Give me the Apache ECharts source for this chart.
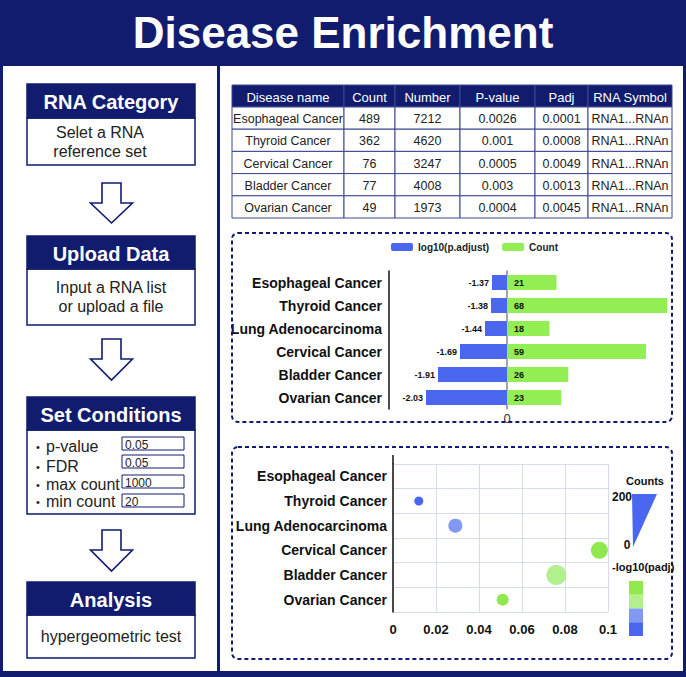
<!DOCTYPE html>
<html>
<head>
<meta charset="utf-8">
<script src="https://cdn.jsdelivr.net/npm/echarts@6/dist/echarts.min.js"></script>
<style>
html,body{margin:0;padding:0;background:#fff;}
#c{width:686px;height:677px;}
</style>
</head>
<body>
<div id="c"></div>
<script>
// ---------- data ----------
var categories = ['Esophageal Cancer','Thyroid Cancer','Lung Adenocarcinoma','Cervical Cancer','Bladder Cancer','Ovarian Cancer'];
var logPadj = [-1.37,-1.38,-1.44,-1.69,-1.91,-2.03];
var barCounts = [21,68,18,59,26,23];

// bubble chart: ratio (x), bubble count (size), colour level (1..4)
var bubbleRatio = [null,0.012,0.029,0.096,0.076,0.051];
var bubbleCount = [null,90,140,170,200,120];
var bubbleLevel = [null,1,2,4,3,4];

var tableHeader = ['Disease name','Count','Number','P-value','Padj','RNA Symbol'];
var tableDisease = ['Esophageal Cancer','Thyroid Cancer','Cervical Cancer','Bladder Cancer','Ovarian Cancer'];
var tableCount = [489,362,76,77,49];
var tableNumber = [7212,4620,3247,4008,1973];
var tablePvalue = ['0.0026','0.001','0.0005','0.003','0.0004'];
var tablePadj = ['0.0001','0.0008','0.0049','0.0013','0.0045'];
var tableSymbol = ['RNA1...RNAn','RNA1...RNAn','RNA1...RNAn','RNA1...RNAn','RNA1...RNAn'];

var steps = [
  {title:'RNA Category', lines:['Selet a RNA','reference set']},
  {title:'Upload Data', lines:['Input a RNA list','or upload a file']},
  {title:'Set Conditions', lines:[]},
  {title:'Analysis', lines:['hypergeometric test']}
];
var condNames = ['p-value','FDR','max count','min count'];
var condValues = ['0.05','0.05','1000','20'];
var countsLegend = ['200','0'];

// ---------- styles / layout ----------
var NAVY = '#111c6e';
var BLUE = '#4b66ef';
var GREEN = '#92ee52';
var levelColors = {1:'#4b66ef',2:'#8199f2',3:'#b2f08e',4:'#8fe84e'};
var FONT = '"Liberation Sans", Arial, sans-serif';

function txt(x,y,s,opt){
  opt = opt||{};
  return {type:'text', z: opt.z||5, style:{
    x:x, y:y, text:s, fill:opt.fill||'#222',
    font:(opt.weight||'normal')+' '+(opt.size||13)+'px '+FONT,
    align:opt.align||'center', verticalAlign:opt.va||'middle',
    textAlign:opt.align||'center', textVerticalAlign:opt.va||'middle'
  }};
}
function rect(x,y,w,h,opt){
  opt = opt||{};
  return {type:'rect', z: opt.z==null?1:opt.z, shape:{x:x,y:y,width:w,height:h,r:opt.r||0},
    style:{fill:opt.fill||'none', stroke:opt.stroke||null, lineWidth:opt.lw||0, lineDash:opt.dash||null}};
}

var g = [];
// panels
g.push(rect(3,66,214,605,{fill:'#ffffff',z:-5}));
g.push(rect(220,66,463,605,{fill:'#ffffff',z:-5}));
g.push(txt(343,32,'Disease Enrichment',{fill:'#ffffff',weight:'bold',size:44}));

// left steps
var boxX = 27, boxW = 168;
var boxY = [[84,118,165],[236,269,325],[397,430,514],[582,615,658]];
steps.forEach(function(s,i){
  var b = boxY[i];
  g.push(rect(boxX,b[1],boxW,b[2]-b[1],{fill:'#ffffff',stroke:NAVY,lw:1.5,z:1}));
  g.push(rect(boxX,b[0],boxW,b[1]-b[0],{fill:NAVY,stroke:NAVY,lw:1.5,z:2}));
  g.push(txt(boxX+boxW/2,(b[0]+b[1])/2+1,s.title,{fill:'#ffffff',weight:'bold',size:20}));
  var n = s.lines.length;
  s.lines.forEach(function(l,j){
    var cy = (b[1]+b[2])/2 + (j-(n-1)/2)*19;
    var cx = (i===0)?100:111;
    g.push(txt(cx,cy,l,{fill:'#222',size:16}));
  });
});
// arrows
var arrows = [[183,203,223],[339,359,380],[530,550,571]];
arrows.forEach(function(a){
  var cx = 111.5;
  g.push({type:'polygon', z:2, shape:{points:[[cx-9.5,a[0]],[cx+9.5,a[0]],[cx+9.5,a[1]],[cx+21,a[1]],[cx,a[2]],[cx-21,a[1]],[cx-9.5,a[1]]]},
    style:{fill:'#ffffff',stroke:NAVY,lineWidth:1.6}});
});
// conditions
var condY = [446,466,484,501];
var condBox = [437,455,475,494];
condNames.forEach(function(c,i){
  g.push(txt(38,condY[i]+1,'\u2022',{size:11,align:'center',fill:'#222'}));
  g.push(txt(46,condY[i],c,{size:16,align:'left',fill:'#222'}));
  g.push(rect(122,condBox[i],62,13,{fill:'#ffffff',stroke:NAVY,lw:1,z:2}));
  g.push(txt(125,condBox[i]+7.5,condValues[i],{size:12,align:'left',fill:'#222'}));
});

// table
var colX = [232,344,395,460,535,588,672];
var rowY = [85,107,129.2,151.4,173.6,195.8,218];
for (var c=0;c<6;c++){
  g.push(rect(colX[c],rowY[0],colX[c+1]-colX[c],rowY[1]-rowY[0],{fill:NAVY,stroke:'#3c4690',lw:1,z:2}));
  g.push(txt((colX[c]+colX[c+1])/2,(rowY[0]+rowY[1])/2+1,tableHeader[c],{fill:'#ffffff',size:13}));
}
var cols = [tableDisease,tableCount,tableNumber,tablePvalue,tablePadj,tableSymbol];
for (var r=0;r<5;r++){
  for (var c2=0;c2<6;c2++){
    g.push(rect(colX[c2],rowY[r+1],colX[c2+1]-colX[c2],rowY[r+2]-rowY[r+1],{fill:'#ffffff',stroke:'#3c4690',lw:1,z:2}));
    var tx = (colX[c2]+colX[c2+1])/2;
    g.push(txt(tx,(rowY[r+1]+rowY[r+2])/2+1,String(cols[c2][r]),{fill:'#222',size:12.5}));
  }
}

// dashed boxes
g.push(rect(232,233,440,189,{stroke:NAVY,lw:2,dash:[4,3],r:6,z:1}));
g.push(rect(232,447,440,212,{stroke:NAVY,lw:2,dash:[4,3],r:6,z:1}));

// bubble legends
g.push(txt(645,481,'Counts',{weight:'bold',size:11,fill:'#111'}));
g.push({type:'polygon',z:2,shape:{points:[[632,494],[657,494],[633,547]]},style:{fill:BLUE}});
g.push(txt(632,497,countsLegend[0],{weight:'bold',size:12,align:'right',fill:'#111'}));
g.push(txt(627,545,countsLegend[1],{weight:'bold',size:12,fill:'#111'}));
g.push(txt(612,567,'-log10(padj)',{weight:'bold',size:11,align:'left',fill:'#111'}));
[4,3,2,1].forEach(function(l,i){
  g.push(rect(629,581+i*13.75,14,13.75,{fill:levelColors[l],z:2}));
});
// y axis extension above bubble grid
g.push({type:'line',z:3,shape:{x1:393,y1:455,x2:393,y2:464},style:{stroke:'#111',lineWidth:1.5}});

// bubble data
var bubbleData = [];
categories.forEach(function(cat,i){
  if (bubbleRatio[i]!=null){
    bubbleData.push({value:[bubbleRatio[i],cat,bubbleCount[i],bubbleLevel[i]],
      itemStyle:{color:levelColors[bubbleLevel[i]],opacity:1}});
  }
});

var chart = echarts.init(document.getElementById('c'), null, {renderer:'svg', width:686, height:677});
chart.setOption({
  backgroundColor: NAVY,
  animation:false,
  textStyle:{fontFamily:FONT},
  graphic:{elements:g},
  legend:{
    data:['log10(p.adjust)','Count'], left:386, top:237, itemWidth:22, itemHeight:8, itemGap:13,
    icon:'roundRect',
    textStyle:{fontWeight:'bold',fontSize:10,color:'#222'}
  },
  grid:[
    {left:389, top:271, width:118, height:138},
    {left:507, top:271, width:165, height:138},
    {left:393, top:464, width:215, height:148}
  ],
  xAxis:[
    // truncated axis (bars start at the right edge of this grid)
    {gridIndex:0, type:'value', min:-2.40, max:-1.22, show:false},
    {gridIndex:1, type:'value', min:0, max:70, interval:70,
      axisLine:{show:false}, axisTick:{show:false}, splitLine:{show:false},
      axisLabel:{margin:3, fontSize:13, color:'#333', formatter:function(v){return v===0?'0':'';}}},
    {gridIndex:2, type:'value', min:0, max:0.1, interval:0.02,
      axisLine:{show:false}, axisTick:{show:false},
      splitLine:{show:true, lineStyle:{color:'#d5dbef',width:1}},
      axisLabel:{margin:11, fontSize:13, fontWeight:'bold', color:'#111',
        formatter:function(v){return String(parseFloat(v.toFixed(2)));}}}
  ],
  yAxis:[
    {gridIndex:0, type:'category', inverse:true, data:categories,
      axisLine:{lineStyle:{color:'#111',width:1.5}},
      axisTick:{alignWithLabel:true, length:6, lineStyle:{color:'#111'}},
      axisLabel:{margin:7, fontSize:14, fontWeight:'bold', color:'#111'}},
    {gridIndex:1, type:'category', inverse:true, data:categories,
      axisLine:{lineStyle:{color:'#888',width:1.5}}, axisTick:{show:false}, axisLabel:{show:false}},
    {gridIndex:2, type:'category', inverse:true, data:categories, boundaryGap:true,
      axisLine:{lineStyle:{color:'#111',width:1.5}},
      axisTick:{length:9, lineStyle:{color:'#111'}},
      splitLine:{show:true, lineStyle:{color:'#d5dbef',width:1}},
      axisLabel:{margin:6, fontSize:14, fontWeight:'bold', color:'#111'}}
  ],
  series:[
    {name:'log10(p.adjust)', type:'bar', xAxisIndex:0, yAxisIndex:0, data:logPadj, barWidth:15, clip:true,
      itemStyle:{color:BLUE},
      label:{show:true, position:'left', distance:3, fontSize:9, fontWeight:'bold', color:'#111'}},
    {name:'Count', type:'bar', xAxisIndex:1, yAxisIndex:1, data:barCounts, barWidth:15,
      itemStyle:{color:GREEN},
      label:{show:true, position:'insideLeft', distance:7, fontSize:9, fontWeight:'bold', color:'#111'}},
    {name:'bubbles', type:'scatter', xAxisIndex:2, yAxisIndex:2, data:bubbleData,
      symbolSize:function(d){return d[2]/10;}}
  ]
});
</script>
</body>
</html>
